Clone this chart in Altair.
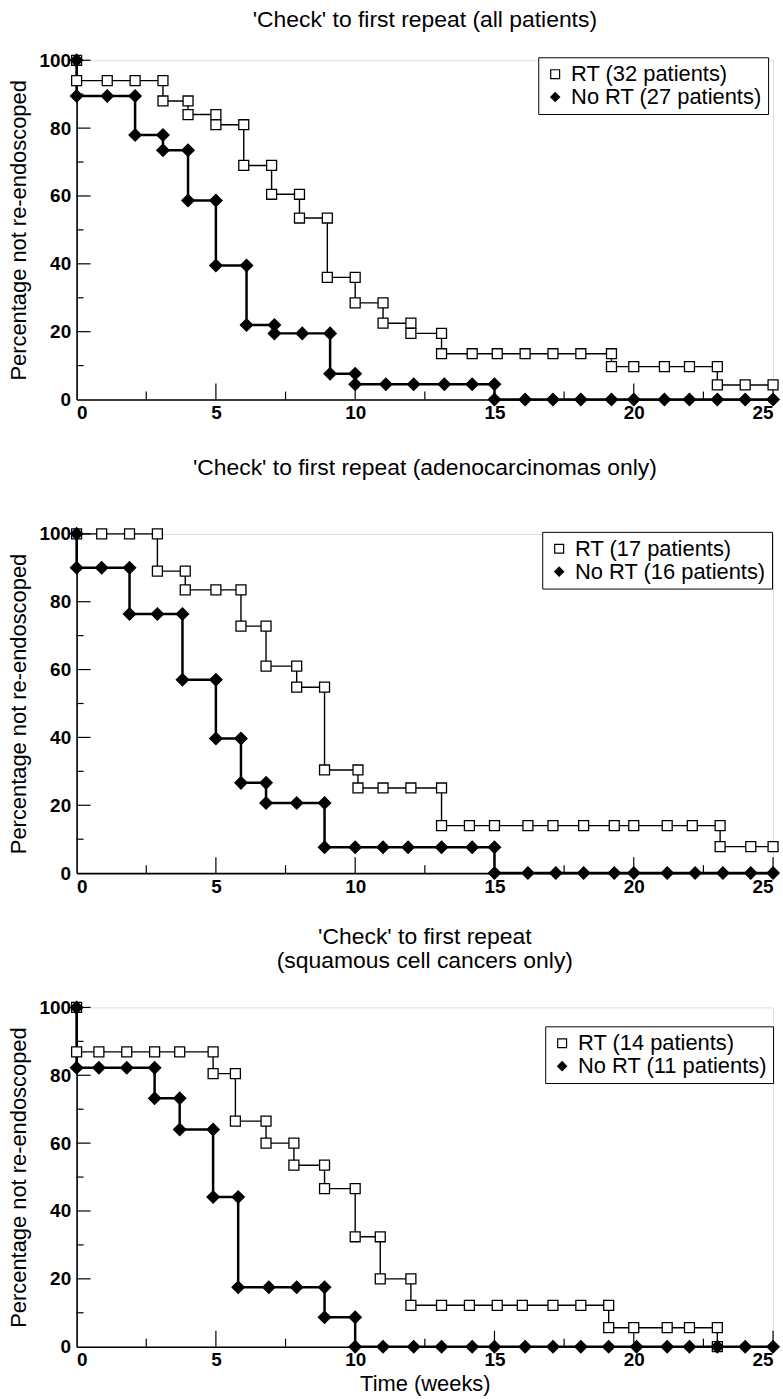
import altair as alt
import pandas as pd

FONT = "Liberation Sans"

# ---------------- data ----------------
TITLE_1 = "'Check' to first repeat (all patients)"
LEG_1 = ["RT (32 patients)", "No RT (27 patients)"]
P1_RT_T = [0, 0, 1.1, 2.1, 3.1, 3.1, 4.0, 4.0, 5.0, 5.0, 6.0, 6.0, 7.0, 7.0, 8.0, 8.0, 9.0, 9.0,
           10.0, 10.0, 11.0, 11.0, 12.0, 12.0, 13.1, 13.1, 14.2, 15.1, 16.1, 17.1, 18.1, 19.2, 19.2,
           20.0, 21.1, 22.0, 23.0, 23.0, 24.0, 25.0]
P1_RT_Y = [100, 94, 94, 94, 94, 88, 88, 84, 84, 81, 81, 69, 69, 60.5, 60.5, 53.5, 53.5, 36, 36,
           28.5, 28.5, 22.5, 22.5, 19.5, 19.5, 13.5, 13.5, 13.5, 13.5, 13.5, 13.5, 13.5, 9.7,
           9.7, 9.7, 9.7, 9.7, 4.3, 4.3, 4.3]
P1_NR_T = [0, 0, 1.1, 2.1, 2.1, 3.1, 3.1, 4.0, 4.0, 5.0, 5.0, 6.1, 6.1, 7.1, 7.1, 8.1, 9.1, 9.1,
           10.0, 10.0, 11.1, 12.1, 13.2, 14.2, 15.0, 15.0, 16.1, 17.1, 18.1, 19.2, 20.0, 21.1,
           22.0, 23.0, 24.0, 25.0]
P1_NR_Y = [100, 89.5, 89.5, 89.5, 78, 78, 73.5, 73.5, 58.7, 58.7, 39.5, 39.5, 22, 22, 19.5, 19.5,
           19.5, 7.6, 7.6, 4.5, 4.5, 4.5, 4.5, 4.5, 4.5, 0, 0, 0, 0, 0, 0, 0, 0, 0, 0, 0]

TITLE_2 = "'Check' to first repeat (adenocarcinomas only)"
LEG_2 = ["RT (17 patients)", "No RT (16 patients)"]
P2_RT_T = [0, 0.9, 1.9, 2.9, 2.9, 3.9, 3.9, 5.0, 5.9, 5.9, 6.8, 6.8, 7.9, 7.9, 8.9, 8.9, 10.1,
           10.1, 11.0, 12.0, 13.1, 13.1, 14.1, 15.0, 16.2, 17.1, 18.2, 19.3, 20.0, 21.2, 22.1,
           23.1, 23.1, 24.2, 25.0]
P2_RT_Y = [100, 100, 100, 100, 89, 89, 83.5, 83.5, 83.5, 72.8, 72.8, 61, 61, 54.8, 54.8, 30.4,
           30.4, 25.1, 25.1, 25.1, 25.1, 14, 14, 14, 14, 14, 14, 14, 14, 14, 14, 14, 7.8, 7.8, 7.8]
P2_NR_T = [0, 0, 0.9, 1.9, 1.9, 2.9, 3.8, 3.8, 5.0, 5.0, 5.9, 5.9, 6.8, 6.8, 7.9, 8.9, 8.9, 10.0,
           11.0, 11.9, 13.1, 14.2, 15.0, 15.0, 16.2, 17.2, 18.2, 19.3, 20.0, 21.2, 22.2, 23.2,
           24.2, 25.0]
P2_NR_Y = [100, 90, 90, 90, 76.4, 76.4, 76.4, 57, 57, 39.7, 39.7, 26.6, 26.6, 20.7, 20.7, 20.7,
           7.6, 7.6, 7.6, 7.6, 7.6, 7.6, 7.6, 0, 0, 0, 0, 0, 0, 0, 0, 0, 0, 0]

TITLE_3 = ["'Check' to first repeat", "(squamous cell cancers only)"]
LEG_3 = ["RT (14 patients)", "No RT (11 patients)"]
P3_RT_T = [0, 0, 0.8, 1.8, 2.8, 3.7, 4.9, 4.9, 5.7, 5.7, 6.8, 6.8, 7.8, 7.8, 8.9, 8.9, 10.0, 10.0,
           10.9, 10.9, 12.0, 12.0, 13.1, 14.1, 15.1, 16.0, 17.1, 18.1, 19.1, 19.1, 20.0, 21.2,
           22.0, 23.0, 23.0]
P3_RT_Y = [100, 86.9, 86.9, 86.9, 86.9, 86.9, 86.9, 80.5, 80.5, 66.5, 66.5, 60, 60, 53.5, 53.5,
           46.6, 46.6, 32.4, 32.4, 20, 20, 12.2, 12.2, 12.2, 12.2, 12.2, 12.2, 12.2, 12.2, 5.6,
           5.6, 5.6, 5.6, 5.6, 0]
P3_NR_T = [0, 0, 0.8, 1.8, 2.8, 2.8, 3.7, 3.7, 4.9, 4.9, 5.8, 5.8, 6.9, 7.9, 8.9, 8.9, 10.0, 10.0,
           11.0, 12.1, 13.1, 14.2, 15.0, 16.1, 17.1, 18.1, 19.1, 20.1, 21.2, 22.0, 23.0, 24.0, 25.0]
P3_NR_Y = [100, 82.2, 82.2, 82.2, 82.2, 73.2, 73.2, 64, 64, 44.1, 44.1, 17.5, 17.5, 17.5, 17.5,
           8.7, 8.7, 0, 0, 0, 0, 0, 0, 0, 0, 0, 0, 0, 0, 0, 0, 0, 0]

X_LABELS = [0, 5, 10, 15, 20, 25]
Y_LABELS = [0, 20, 40, 60, 80, 100]
X_MAJOR = [5, 10, 15, 20, 25]
X_MINOR = [2.5, 7.5, 12.5, 17.5, 22.5]
Y_MAJOR = [20, 40, 60, 80, 100]
Y_MINOR = [10, 30, 50, 70, 90]

W, H = 700, 341


def frame(t, y, grp):
    return pd.DataFrame({"t": t, "pct": y, "grp": grp, "idx": list(range(len(t)))})


def make_legend(legend_x, legend_y):
    return alt.Legend(title=None, orient="none", legendX=legend_x, legendY=legend_y,
                      strokeColor="black", fillColor="white", padding=6,
                      labelFont=FONT, labelFontSize=22, labelColor="black",
                      labelLimit=0, symbolSize=80, symbolStrokeColor="black",
                      symbolStrokeWidth=1.2, labelOffset=5, rowPadding=1)


def panel(title, title_offset, legend_labels, rt_t, rt_y, nr_t, nr_y, legend_x, legend_y, x_title):
    rt = frame(rt_t, rt_y, legend_labels[0])
    nr = frame(nr_t, nr_y, legend_labels[1])

    xs = alt.Scale(domain=[0, 25], nice=False, zero=False)
    ys = alt.Scale(domain=[0, 100], nice=False)
    x_axis = alt.Axis(values=X_LABELS, ticks=False, tickSize=0, grid=False, labelPadding=4,
                      labelFontSize=19, labelFontWeight="bold", labelFont=FONT,
                      domainColor="black", domainWidth=1.6, labelColor="black",
                      titleFontSize=22, titleFont=FONT, titleFontWeight="normal",
                      titleColor="black", titlePadding=4)
    y_axis = alt.Axis(values=Y_LABELS, ticks=False, tickSize=0, grid=False, labelPadding=6,
                      labelFontSize=19, labelFontWeight="bold", labelFont=FONT,
                      domainColor="black", domainWidth=1.6, labelColor="black",
                      titleFontSize=22, titleFont=FONT, titleFontWeight="normal",
                      titleColor="black", titlePadding=9)
    X = alt.X("t:Q", scale=xs, axis=x_axis, title=x_title if x_title else None)
    Y = alt.Y("pct:Q", scale=ys, axis=y_axis, title="Percentage not re-endoscoped")

    rt_line = alt.Chart(rt).mark_line(color="black", strokeWidth=1.4).encode(x=X, y=Y, order="idx:Q")
    nr_line = alt.Chart(nr).mark_line(color="black", strokeWidth=2.5).encode(x=X, y=Y, order="idx:Q")

    dom = legend_labels
    leg = make_legend(legend_x, legend_y)
    shape_enc = alt.Shape("grp:N", scale=alt.Scale(domain=dom, range=["square", "diamond"]), legend=leg)
    fill_enc = alt.Fill("grp:N", scale=alt.Scale(domain=dom, range=["white", "black"]), legend=leg)
    stroke_enc = alt.Stroke("grp:N", scale=alt.Scale(domain=dom, range=["black", "black"]), legend=leg)
    rt_pts = alt.Chart(rt).mark_point(filled=True, strokeWidth=1.3, opacity=1, size=100).encode(
        x=alt.X("t:Q", scale=xs), y=alt.Y("pct:Q", scale=ys),
        shape=shape_enc, fill=fill_enc, stroke=stroke_enc)
    nr_pts = alt.Chart(nr).mark_point(filled=True, strokeWidth=1.3, opacity=1, size=150).encode(
        x=alt.X("t:Q", scale=xs), y=alt.Y("pct:Q", scale=ys),
        shape=shape_enc, fill=fill_enc, stroke=stroke_enc)

    ymaj = alt.Chart(pd.DataFrame({"v": Y_MAJOR})).mark_rule(color="black", strokeWidth=1.2).encode(
        y=alt.Y("v:Q", scale=ys), x=alt.value(0), x2=alt.value(14))
    ymin = alt.Chart(pd.DataFrame({"v": Y_MINOR})).mark_rule(color="black", strokeWidth=1.2).encode(
        y=alt.Y("v:Q", scale=ys), x=alt.value(0), x2=alt.value(7))
    xmaj = alt.Chart(pd.DataFrame({"v": X_MAJOR})).mark_rule(color="black", strokeWidth=1.2).encode(
        x=alt.X("v:Q", scale=xs), y=alt.value(H), y2=alt.value(H - 16))
    xmin = alt.Chart(pd.DataFrame({"v": X_MINOR})).mark_rule(color="black", strokeWidth=1.2).encode(
        x=alt.X("v:Q", scale=xs), y=alt.value(H), y2=alt.value(H - 8))

    return alt.layer(ymaj, ymin, xmaj, xmin, rt_line, nr_line, rt_pts, nr_pts).properties(
        width=W, height=H,
        title=alt.TitleParams(text=title, font=FONT, fontSize=23, fontWeight="normal",
                              color="black", anchor="middle", frame="group",
                              offset=title_offset, lineHeight=24),
    )


def independent(ch):
    return ch.resolve_scale(
        shape="independent", fill="independent", stroke="independent",
        x="independent", y="independent"
    ).resolve_legend(shape="independent", fill="independent", stroke="independent")


c1 = panel(TITLE_1, 19, LEG_1, P1_RT_T, P1_RT_Y, P1_NR_T, P1_NR_Y, 464, -3, None)
c2 = panel(TITLE_2, 45, LEG_2, P2_RT_T, P2_RT_Y, P2_NR_T, P2_NR_Y, 468, -2, None)
c3 = panel(TITLE_3, 26, LEG_3, P3_RT_T, P3_RT_Y, P3_NR_T, P3_NR_Y, 471, 19, "Time (weeks)")

top = independent(alt.vconcat(c1, c2, spacing=33))
chart = independent(alt.vconcat(top, c3, spacing=28)).configure_view(stroke=None).configure(
    background="white", padding={"left": 6, "top": 5, "right": 0, "bottom": 0}
)

chart.save("out.html", embed_options={"renderer": "svg", "actions": False})
